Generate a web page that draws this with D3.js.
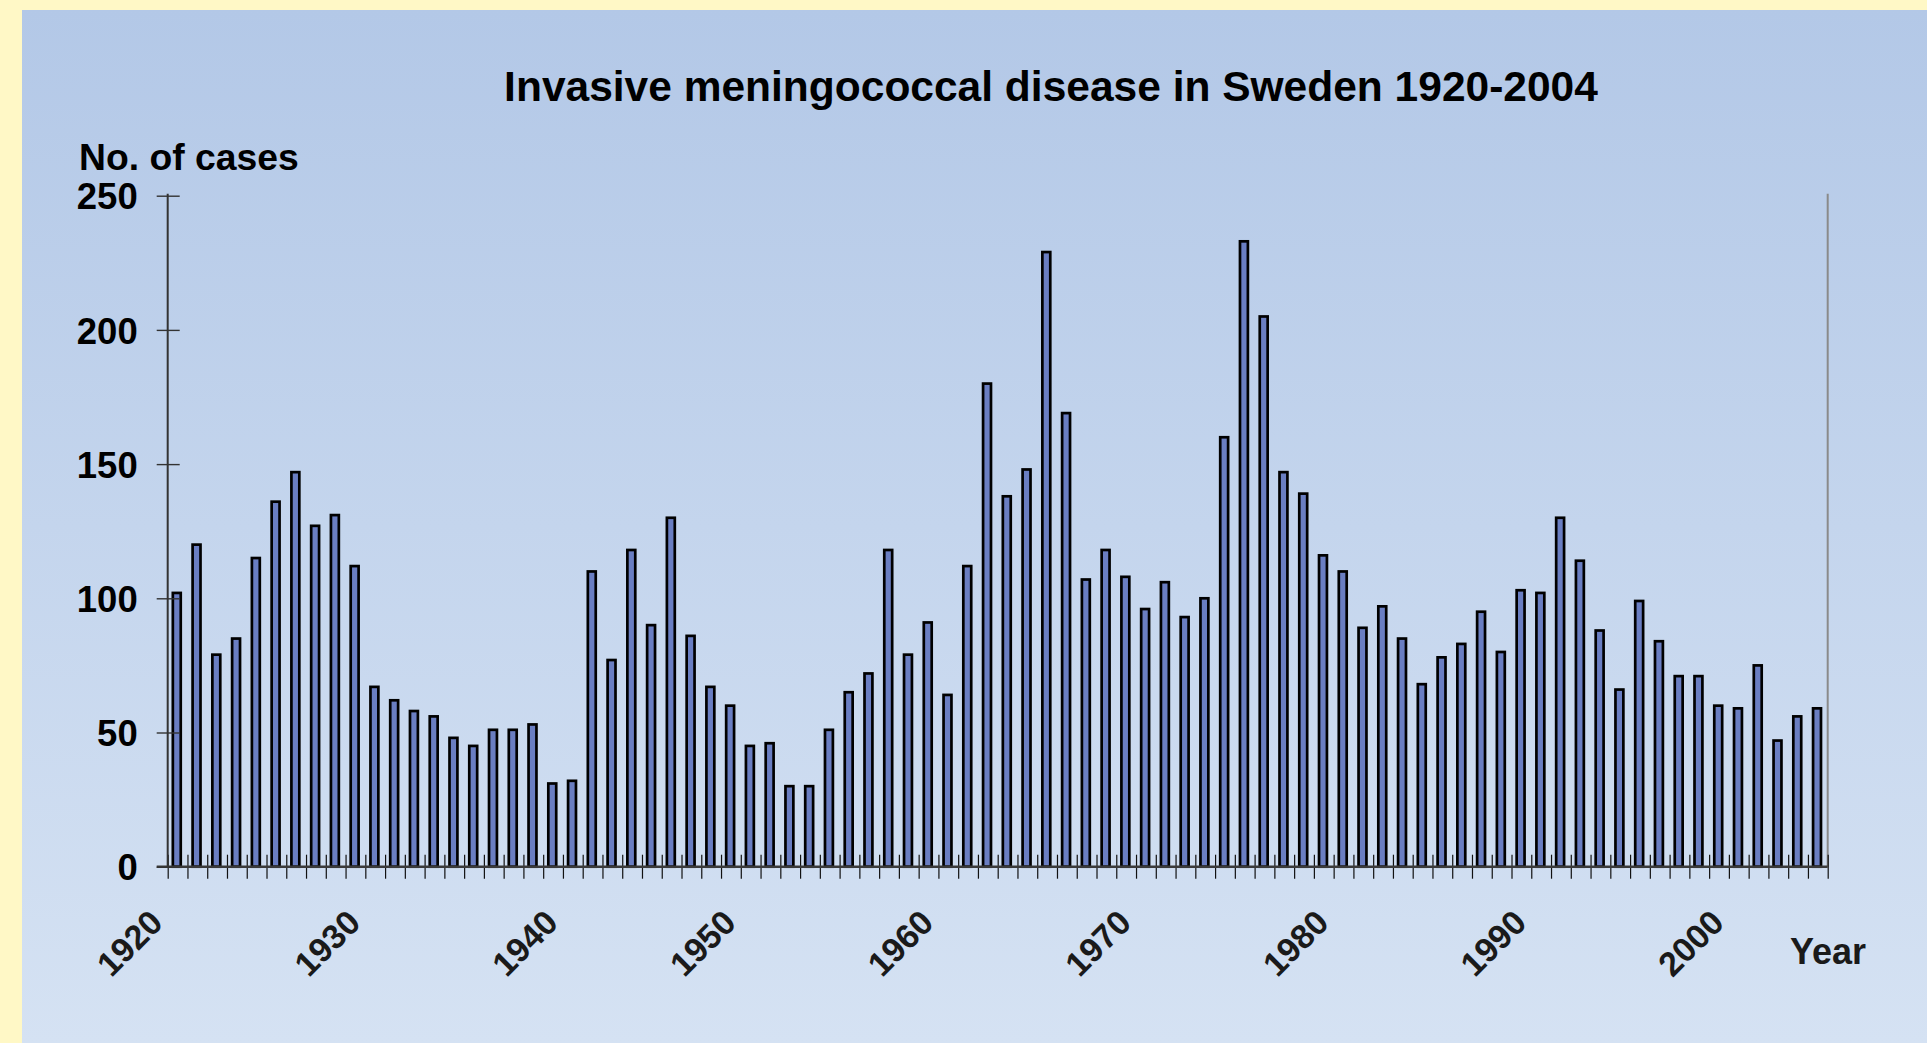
<!DOCTYPE html>
<html>
<head>
<meta charset="utf-8">
<script src="https://cdnjs.cloudflare.com/ajax/libs/d3/7.8.5/d3.min.js"></script>
<style>
  html, body { margin: 0; padding: 0; background: #fff8c6; }
  svg { display: block; }
  text { font-family: "Liberation Sans", Arial, Helvetica, sans-serif; font-weight: bold; }
</style>
</head>
<body>
<svg id="chart" width="1927" height="1043"></svg>
<script>
// ---- data ----
const title = "Invasive meningococcal disease in Sweden 1920-2004";
const yAxisTitle = "No. of cases";
const xAxisTitle = "Year";
// yearly number of cases, one bar per category (84 bars)
const cases = [
  102, 120, 79, 85, 115, 136, 147, 127, 131, 112,
  67, 62, 58, 56, 48, 45, 51, 51, 53, 31,
  32, 110, 77, 118, 90, 130, 86, 67, 60, 45,
  46, 30, 30, 51, 65, 72, 118, 79, 91, 64,
  112, 180, 138, 148, 229, 169, 107, 118, 108, 96,
  106, 93, 100, 160, 233, 205, 147, 139, 116, 110,
  89, 97, 85, 68, 78, 83, 95, 80, 103, 102,
  130, 114, 88, 66, 99, 84, 71, 71, 60, 59,
  75, 47, 56, 59
];
const xTickLabels = ["1920", "1930", "1940", "1950", "1960", "1970", "1980", "1990", "2000"];
const xTickCategory = [0, 10, 20, 29, 39, 49, 59, 69, 79];
const yTicks = [0, 50, 100, 150, 200, 250];
const yMax = 250;

// ---- layout ----
const W = 1927, H = 1043;
const plotLeft = 167.7, plotRight = 1827.7, plotTop = 195.7, plotBottom = 866.7;

const svg = d3.select("#chart");
const defs = svg.append("defs");
const grad = defs.append("linearGradient").attr("id", "bg")
  .attr("x1", 0).attr("y1", 0).attr("x2", 0).attr("y2", 1);
grad.append("stop").attr("offset", "0%").attr("stop-color", "#b3c8e7");
grad.append("stop").attr("offset", "100%").attr("stop-color", "#d5e2f3");

svg.append("rect").attr("x", 0).attr("y", 0).attr("width", W).attr("height", H).attr("fill", "#fff8c6");
svg.append("rect").attr("x", 22).attr("y", 10).attr("width", W - 22).attr("height", H - 10).attr("fill", "url(#bg)");

const x = d3.scaleBand().domain(d3.range(cases.length)).range([plotLeft, plotRight]).paddingInner(0).paddingOuter(0);
const xi = d3.scaleLinear().domain([0, cases.length]).range([plotLeft, plotRight]);
const y = d3.scaleLinear().domain([0, yMax]).range([plotBottom, plotTop]);

// title
svg.append("text").attr("x", 1051).attr("y", 101)
  .attr("text-anchor", "middle").attr("font-size", 42.5).attr("fill", "#000")
  .text(title);

// y axis title
svg.append("text").attr("x", 79).attr("y", 170)
  .attr("font-size", 37.3).attr("fill", "#000").text(yAxisTitle);

// right grey boundary line
svg.append("line").attr("x1", plotRight).attr("x2", plotRight).attr("y1", plotTop - 2).attr("y2", plotBottom)
  .attr("stroke", "#8a8a8a").attr("stroke-width", 2);

// bars
const bw = x.bandwidth();
svg.append("g").selectAll("rect").data(cases).join("rect")
  .attr("x", (d, i) => x(i) + bw * 0.26)
  .attr("width", bw * 0.40)
  .attr("y", d => y(d))
  .attr("height", d => y(0) - y(d))
  .attr("fill", "#6a7ec2")
  .attr("stroke", "#000")
  .attr("stroke-width", 2.7);

// x axis (ticks between categories)
const xAxis = d3.axisBottom(xi).tickValues(d3.range(cases.length + 1)).tickSize(12).tickFormat("");
const gx = svg.append("g").attr("transform", `translate(0,${plotBottom})`).call(xAxis);
gx.select(".domain").remove();
gx.selectAll(".tick line").attr("y1", -12).attr("stroke", "#111").attr("stroke-width", 1.2);
svg.append("line").attr("x1", plotLeft - 11).attr("x2", plotRight).attr("y1", plotBottom).attr("y2", plotBottom)
  .attr("stroke", "#3a3a3a").attr("stroke-width", 2.4);

// x tick labels (rotated)
svg.append("g").selectAll("text").data(xTickLabels).join("text")
  .attr("transform", (d, i) => `translate(${xi(xTickCategory[i]) - 3},${plotBottom + 58}) rotate(-45)`)
  .attr("text-anchor", "end").attr("font-size", 34).attr("fill", "#1a1a1a")
  .text(d => d);

// x axis title
svg.append("text").attr("x", 1790).attr("y", 964)
  .attr("font-size", 36).attr("fill", "#1a1a1a").text(xAxisTitle);

// y axis
const yAxis = d3.axisLeft(y).tickValues(yTicks).tickSize(11).tickPadding(19).tickFormat(d3.format("d"));
const gy = svg.append("g").attr("transform", `translate(${plotLeft},0)`).call(yAxis);
gy.select(".domain").attr("stroke", "#333").attr("stroke-width", 2).attr("d", `M0,${plotTop - 2}V${plotBottom}`);
gy.selectAll(".tick line").attr("x1", 12).attr("stroke", "#333").attr("stroke-width", 1.4);
gy.selectAll(".tick text").attr("font-size", 36.5).attr("fill", "#000")
  .attr("font-family", "'Liberation Sans', Arial, sans-serif").attr("font-weight", "bold")
  .attr("dy", "0.36em");
</script>
</body>
</html>
